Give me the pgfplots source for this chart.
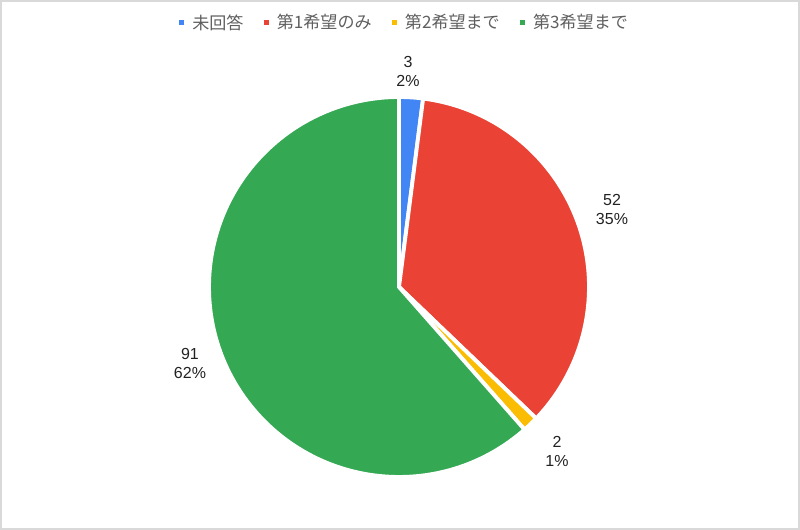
\documentclass[border=0pt]{standalone}
\usepackage{pgfplots}
\pgfplotsset{compat=1.18}
\usepackage{pgfplotstable}
\usepackage{fontspec}
\setmainfont{Liberation Sans}
\newfontfamily\jp{Noto Sans CJK JP}
\definecolor{cBlue}{HTML}{4285F4}
\definecolor{cRed}{HTML}{EA4335}
\definecolor{cYellow}{HTML}{FBBC04}
\definecolor{cGreen}{HTML}{34A853}
\definecolor{cText}{HTML}{222222}
\definecolor{cLeg}{HTML}{5F5F5F}
\pgfplotstableread{
value
3
52
2
91
}\piedata
\pgfplotstablegetelem{0}{value}\of\piedata \let\vA\pgfplotsretval
\pgfplotstablegetelem{1}{value}\of\piedata \let\vB\pgfplotsretval
\pgfplotstablegetelem{2}{value}\of\piedata \let\vC\pgfplotsretval
\pgfplotstablegetelem{3}{value}\of\piedata \let\vD\pgfplotsretval
\pgfmathsetmacro\total{\vA+\vB+\vC+\vD}
\pgfmathsetmacro\aA{90}
\pgfmathsetmacro\aB{\aA-\vA/\total*360}
\pgfmathsetmacro\aC{\aB-\vB/\total*360}
\pgfmathsetmacro\aD{\aC-\vC/\total*360}
\pgfmathsetmacro\aE{\aD-\vD/\total*360}
\newcommand\slice[3]{\fill[#3, draw=white, line width=2.9pt, line join=miter] (axis cs:399,243) -- ++(#1:142.5pt) arc[start angle=#1, end angle=#2, radius=142.5pt] -- cycle;}
\tikzset{lbl/.style={align=center, text=cText, font=\fontsize{12pt}{14.5pt}\selectfont}}
\begin{document}
\begin{tikzpicture}
\begin{axis}[
  scale only axis, width=600pt, height=397.5pt,
  xmin=0, xmax=800, ymin=0, ymax=530,
  hide axis, clip=false,
  legend columns=4,
  legend style={draw=none, fill=none, at={(0.506,0.957)}, anchor=center,
    font=\jp\fontsize{12.8pt}{15pt}\selectfont, text=cLeg,
    /tikz/every even column/.append style={column sep=13pt},
    inner sep=0pt},
  legend image code/.code={\fill[#1, draw=none] (0pt,-2pt) rectangle (4pt,2pt); \path[draw=none, fill=none] (0pt,0pt) -- (8pt,0pt);},
]
\path (axis cs:0,0) rectangle (axis cs:800,530);
\draw[draw=black!15, line width=1.5pt] (axis cs:1,1) rectangle (axis cs:799,529);
\slice{\aA}{\aB}{cBlue}
\slice{\aB}{\aC}{cRed}
\slice{\aC}{\aD}{cYellow}
\slice{\aD}{\aE}{cGreen}
\addlegendimage{fill=cBlue}\addlegendentry{未回答}
\addlegendimage{fill=cRed}\addlegendentry{第1希望のみ}
\addlegendimage{fill=cYellow}\addlegendentry{第2希望まで}
\addlegendimage{fill=cGreen}\addlegendentry{第3希望まで}
\node[lbl] at (axis cs:408,458.5) {3\\2\%};
\node[lbl] at (axis cs:612,320.5) {52\\35\%};
\node[lbl] at (axis cs:557,78.5) {2\\1\%};
\node[lbl] at (axis cs:190,166.5) {91\\62\%};
\end{axis}
\end{tikzpicture}
\end{document}
